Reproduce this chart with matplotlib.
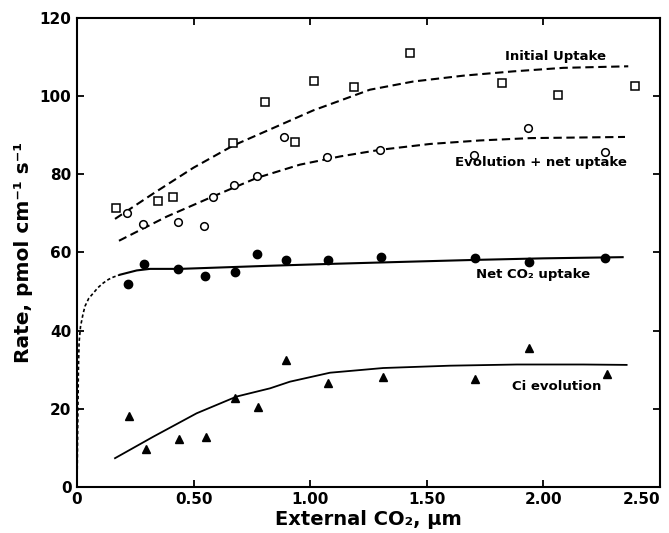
import matplotlib
matplotlib.use('Agg')
import matplotlib.pyplot as plt
import numpy as np

plt.rcParams['font.family'] = ['DejaVu Sans']
plt.rcParams['font.weight'] = 'bold'

# Initial uptake (open squares)
init_x = [0.166, 0.346, 0.412, 0.670, 0.807, 0.934, 1.016, 1.189, 1.428, 1.823, 2.063, 2.393]
init_y = [71.5, 73.1, 74.1, 88.1, 98.6, 88.3, 104.0, 102.3, 111.1, 103.4, 100.3, 102.7]
# Evolution + net uptake (open circles)
evo_x = [0.214, 0.284, 0.434, 0.543, 0.585, 0.672, 0.772, 0.888, 1.071, 1.301, 1.702, 1.933, 2.264]
evo_y = [70.0, 67.3, 67.8, 66.8, 74.1, 77.3, 79.5, 89.7, 84.4, 86.3, 85.1, 91.9, 85.8]
# Net CO2 uptake (filled circles)
net_x = [0.217, 0.287, 0.434, 0.548, 0.678, 0.772, 0.895, 1.075, 1.305, 1.707, 1.937, 2.264]
net_y = [51.9, 57.0, 55.8, 54.1, 55.0, 59.7, 58.1, 58.2, 58.8, 58.6, 57.5, 58.6]
# Ci evolution (filled triangles)
ci_x = [0.223, 0.295, 0.439, 0.552, 0.678, 0.777, 0.896, 1.078, 1.311, 1.707, 1.940, 2.274]
ci_y = [18.2, 9.7, 12.2, 12.7, 22.8, 20.4, 32.5, 26.5, 28.1, 27.6, 35.5, 28.8]

# fitted curves
init_cx = [0.163, 0.327, 0.499, 0.670, 0.842, 1.013, 1.128, 1.256, 1.442, 1.657, 1.871, 2.085, 2.364]
init_cy = [68.6, 75.1, 81.7, 87.4, 91.9, 96.4, 98.9, 101.7, 103.8, 105.3, 106.4, 107.3, 107.7]
evo_cx = [0.180, 0.385, 0.585, 0.771, 0.956, 1.128, 1.299, 1.514, 1.728, 1.942, 2.35]
evo_cy = [63.0, 69.2, 74.4, 79.1, 82.5, 84.6, 86.3, 87.8, 88.7, 89.3, 89.6]
net_cx = [0.184, 0.256, 0.313, 0.442, 0.828, 1.10, 1.40, 1.707, 2.0, 2.34]
net_cy = [54.3, 55.4, 55.8, 55.8, 56.6, 57.1, 57.6, 58.1, 58.5, 58.8]
dot_cx = [0.0, 0.002, 0.004, 0.006, 0.009, 0.015, 0.025, 0.034, 0.05, 0.07, 0.09, 0.113, 0.135, 0.156, 0.184]
dot_cy = [0.0, 10.0, 20.0, 30.0, 37.0, 41.0, 44.0, 46.2, 48.2, 49.6, 51.0, 52.2, 53.1, 53.7, 54.3]
ci_cx = [0.163, 0.327, 0.513, 0.685, 0.828, 0.913, 1.085, 1.313, 1.60, 1.886, 2.171, 2.357]
ci_cy = [7.3, 12.8, 18.8, 23.1, 25.2, 26.9, 29.2, 30.4, 31.0, 31.3, 31.3, 31.2]

fig = plt.figure(figsize=(6.69, 5.33), dpi=100)
ax = fig.add_axes([0.1151, 0.0869, 0.8714, 0.8788])

ax.plot(init_cx, init_cy, color='black', lw=1.5, ls=(0, (4, 2.2)))
ax.plot(evo_cx, evo_cy, color='black', lw=1.5, ls=(0, (4, 2.2)))
ax.plot(net_cx, net_cy, color='black', lw=1.5)
ax.plot(dot_cx, dot_cy, color='black', lw=1.2, ls=(0, (2, 1.5)))
ax.plot(ci_cx, ci_cy, color='black', lw=1.3)

ax.plot(init_x, init_y, 's', mfc='white', mec='black', mew=1.1, ms=5.5)
ax.plot(evo_x, evo_y, 'o', mfc='white', mec='black', mew=1.1, ms=5.5)
ax.plot(net_x, net_y, 'o', mfc='black', mec='black', ms=6)
ax.plot(ci_x, ci_y, '^', mfc='black', mec='black', ms=6)

ax.text(2.054, 110.2, 'Initial Uptake', ha='center', va='center', fontsize=9.5)
ax.text(1.99, 83.0, 'Evolution + net uptake', ha='center', va='center', fontsize=9.5)
ax.text(1.955, 54.3, 'Net CO₂ uptake', ha='center', va='center', fontsize=9.5)
ax.text(2.058, 25.6, 'Ci evolution', ha='center', va='center', fontsize=9.5)

ax.set_xlim(0, 2.5)
ax.set_ylim(0, 120)
ax.set_xticks([0, 0.5, 1.0, 1.5, 2.0, 2.5])
ax.set_xticklabels(['0', '0.50', '1.00', '1.50', '2.00', '2.50'])
ax.get_xticklabels()[-1].set_ha('right')
ax.set_yticks([0, 20, 40, 60, 80, 100, 120])
ax.tick_params(direction='in', length=5, width=1.3, top=True, right=True,
               labelsize=11, pad=4)
for s in ax.spines.values():
    s.set_linewidth(1.5)

ax.set_xlabel('External CO₂, µm', fontsize=14, fontweight='bold', labelpad=2)
ax.set_ylabel('Rate, pmol cm⁻¹ s⁻¹', fontsize=14.5, fontweight='bold', labelpad=5)

fig.savefig('out.png', dpi=100)
